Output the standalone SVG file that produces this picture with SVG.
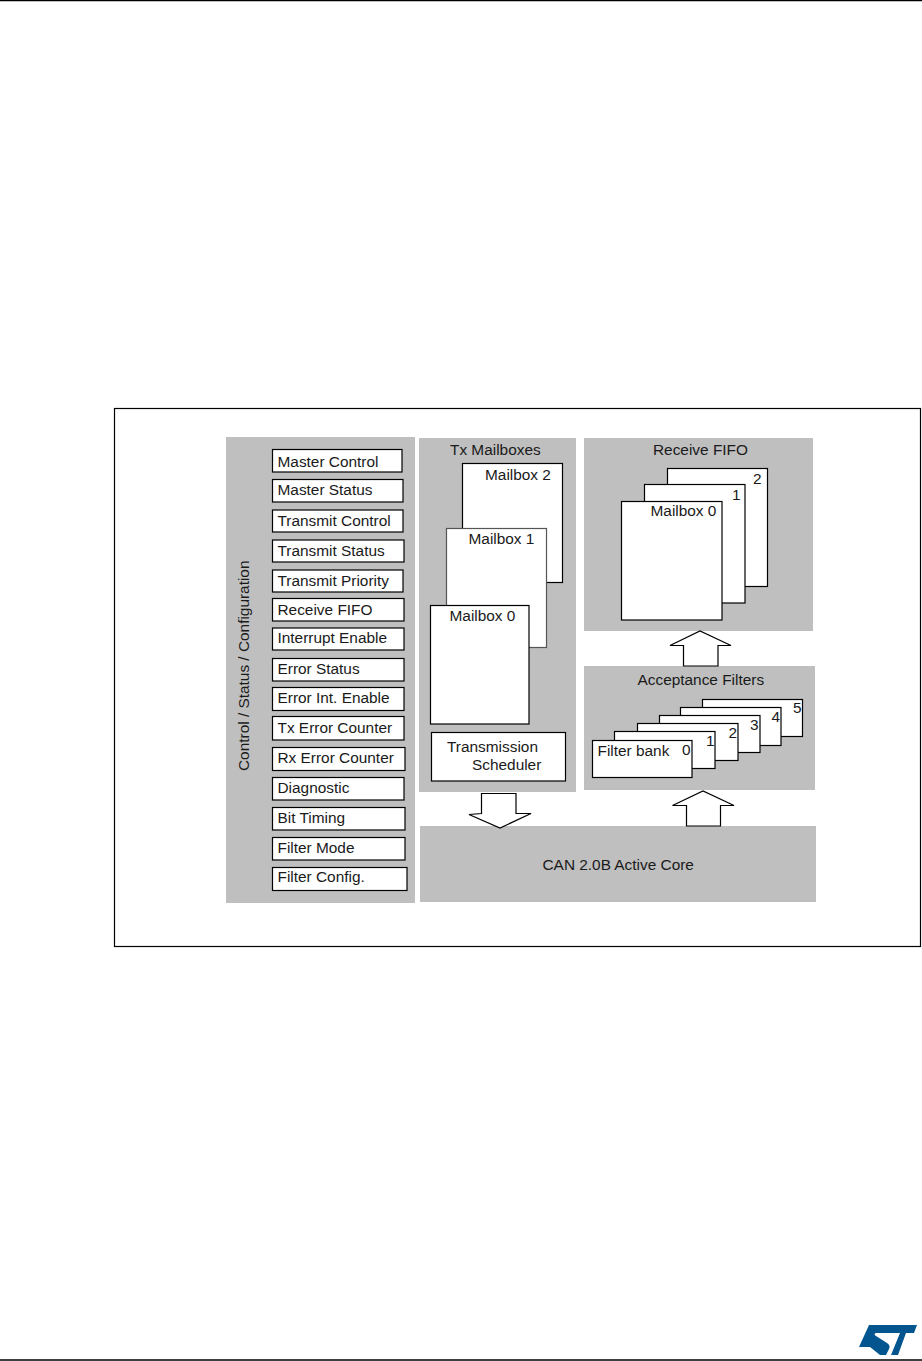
<svg xmlns="http://www.w3.org/2000/svg" width="922" height="1361" viewBox="0 0 922 1361">
<style>
text{font-family:"Liberation Sans",Arial,sans-serif;font-size:15.400px;fill:#1a1a1a}
.p{fill:#bfbfbf}
.b{fill:#fff;stroke:#000;stroke-width:1.2}
.a{fill:#fff;stroke:#000;stroke-width:1.2}
.r{stroke:#000;stroke-width:1.500}
</style>
<rect width="922" height="1361" fill="#fff"/>
<path class="r" d="M0 .5H922M0 1360H922"/>
<rect x="114.500" y="408.500" width="806" height="538" fill="none" stroke="#000" stroke-width="1.200"/>
<g id="control-panel">
<rect class="p" x="226" y="437" width="189" height="466"/>
<text transform="translate(249 771) rotate(-90)">Control / Status / Configuration</text>
</g>
<g id="master-control"><rect class="b" x="272.500" y="449.500" width="129.500" height="22.500"/><text x="277.500" y="466.500">Master Control</text></g>
<g id="master-status"><rect class="b" x="272.500" y="479.500" width="130.500" height="22.500"/><text x="277.500" y="494.500">Master Status</text></g>
<g id="transmit-control"><rect class="b" x="272.500" y="510" width="130.500" height="22"/><text x="277.500" y="525.500">Transmit Control</text></g>
<g id="transmit-status"><rect class="b" x="272.500" y="540" width="131.500" height="22"/><text x="277.500" y="555.500">Transmit Status</text></g>
<g id="transmit-priority"><rect class="b" x="272.500" y="570" width="130.500" height="22"/><text x="277.500" y="585.500">Transmit Priority</text></g>
<g id="receive-fifo"><rect class="b" x="272.500" y="598.500" width="131.500" height="22.500"/><text x="277.500" y="614.500">Receive FIFO</text></g>
<g id="interrupt-enable"><rect class="b" x="272.500" y="628" width="131.500" height="22"/><text x="277.500" y="643">Interrupt Enable</text></g>
<g id="error-status"><rect class="b" x="272.500" y="658.500" width="131.500" height="22.500"/><text x="277.500" y="674">Error Status</text></g>
<g id="error-int-enable"><rect class="b" x="272.500" y="687.500" width="131.500" height="23"/><text x="277.500" y="702.500">Error Int. Enable</text></g>
<g id="tx-error-counter"><rect class="b" x="272.500" y="716.500" width="131.500" height="23.500"/><text x="277.500" y="733">Tx Error Counter</text></g>
<g id="rx-error-counter"><rect class="b" x="272.500" y="747.500" width="132.500" height="23"/><text x="277.500" y="763">Rx Error Counter</text></g>
<g id="diagnostic"><rect class="b" x="272.500" y="777.500" width="131.500" height="22.500"/><text x="277.500" y="793">Diagnostic</text></g>
<g id="bit-timing"><rect class="b" x="272.500" y="807.500" width="132.500" height="22.500"/><text x="277.500" y="823">Bit Timing</text></g>
<g id="filter-mode"><rect class="b" x="272.500" y="837.500" width="132.500" height="22.500"/><text x="277.500" y="853">Filter Mode</text></g>
<g id="filter-config"><rect class="b" x="272.500" y="867.500" width="134.500" height="23"/><text x="277.500" y="881.500">Filter Config.</text></g>

<g id="tx-mailboxes">
<rect class="p" x="419" y="438" width="157" height="354"/>
<text x="450" y="454.500">Tx Mailboxes</text>
</g>
<g id="tx-mailbox-2"><rect class="b" x="462.500" y="463.500" width="100" height="119"/><text x="485" y="480">Mailbox 2</text></g>
<g id="tx-mailbox-1"><rect class="b" style="stroke:#555" x="446.500" y="528.500" width="100" height="119"/><text x="468.500" y="544">Mailbox 1</text></g>
<g id="tx-mailbox-0"><rect class="b" x="430.500" y="605.500" width="98.500" height="118.500"/><text x="449.500" y="621">Mailbox 0</text></g>
<g id="transmission-scheduler"><rect class="b" x="431.500" y="732.500" width="134" height="48.500"/><text x="447" y="752">Transmission</text><text x="472" y="770">Scheduler</text></g>

<g id="receive-fifo-panel">
<rect class="p" x="584" y="438" width="229" height="193"/>
<text x="653" y="455">Receive FIFO</text>
</g>
<g id="rx-mailbox-2"><rect class="b" x="667.500" y="468.500" width="100" height="118"/><text x="753" y="484">2</text></g>
<g id="rx-mailbox-1"><rect class="b" x="644.500" y="484.500" width="100.500" height="118.500"/><text x="732" y="500">1</text></g>
<g id="rx-mailbox-0"><rect class="b" x="621.500" y="501.500" width="100.500" height="118.500"/><text x="650.500" y="516">Mailbox 0</text></g>

<g id="acceptance-filters">
<rect class="p" x="584" y="666" width="231" height="124"/>
<text x="637.500" y="684.500">Acceptance Filters</text>
</g>
<g id="filter-bank-5"><rect class="b" x="702.500" y="699.500" width="100" height="37"/><text x="793" y="713">5</text></g>
<g id="filter-bank-4"><rect class="b" x="680.500" y="707.500" width="100.500" height="38"/><text x="771.500" y="722">4</text></g>
<g id="filter-bank-3"><rect class="b" x="659.500" y="715.500" width="100.500" height="37"/><text x="750" y="729.500">3</text></g>
<g id="filter-bank-2"><rect class="b" x="637.500" y="723.500" width="100.500" height="37"/><text x="728.500" y="737.500">2</text></g>
<g id="filter-bank-1"><rect class="b" x="614.500" y="731.500" width="100.500" height="37"/><text x="706" y="746">1</text></g>
<g id="filter-bank-0"><rect class="b" x="592.500" y="740.500" width="99.500" height="37"/><text x="597.500" y="756">Filter bank</text><text x="682" y="755">0</text></g>

<g id="can-core">
<rect class="p" x="420" y="826" width="396" height="76"/>
<text x="542.500" y="870">CAN 2.0B Active Core</text>
</g>

<g id="connectors">
<path class="a" d="M481.500 793.500H516V813.500L531 813.500 500 828 469 814.500 481.500 813.500Z"/>
<path class="a" d="M683.500 666V645.500H670L700 631 731 645.500H718V666Z"/>
<path class="a" d="M686.500 826V805.500H672.500L703 791 734 805.500H720.500V826Z"/>
</g>

<g id="st-logo">
<path fill="#03558f" d="M869 1325H917L914 1333H906L898 1355H891L900 1333H877C874 1333 874 1335 876 1336L887 1343C890 1345 890 1347 889 1349L886 1355H880L870 1347H859Z"/>
</g>
</svg>
